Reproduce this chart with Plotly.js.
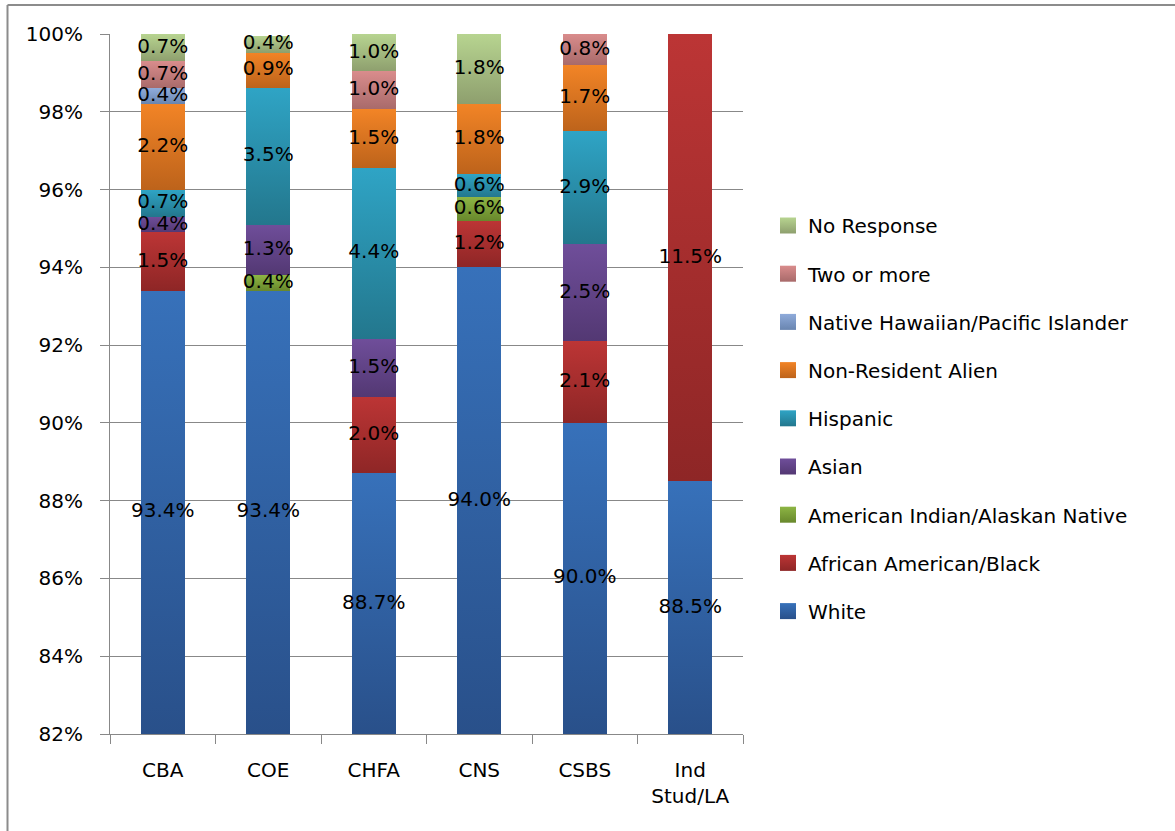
<!DOCTYPE html>
<html>
<head>
<meta charset="utf-8">
<script src="https://cdn.plot.ly/plotly-3.0.1.min.js"></script>
<style>
  html, body { margin: 0; padding: 0; background: #fff; }
  #chart { width: 1175px; height: 831px; }
</style>
</head>
<body>
<div id="chart"></div>
<script>
// ---------- data (percent of each college) ----------
const categories = ['CBA', 'COE', 'CHFA', 'CNS', 'CSBS', 'Ind Stud/LA'];
const tickLabels = ['CBA', 'COE', 'CHFA', 'CNS', 'CSBS', 'Ind<br>Stud/LA'];

const white      = [93.4, 93.4, 88.7, 94.0, 90.0, 88.5];
const black      = [1.5, null, 1.96, 1.2, 2.1, 11.5];
const amIndian   = [null, 0.4, null, 0.6, null, null];
const asian      = [0.4, 1.3, 1.5, null, 2.5, null];
const hispanic   = [0.7, 3.52, 4.4, 0.6, 2.9, null];
const nonResident= [2.2, 0.9, 1.5, 1.8, 1.7, null];
const hawaiian   = [0.4, null, null, null, null, null];
const twoOrMore  = [0.7, null, 0.98, null, 0.8, null];
const noResponse = [0.7, 0.44, 0.98, 1.8, null, null];

const seriesNames = ['White', 'African American/Black', 'American Indian/Alaskan Native',
  'Asian', 'Hispanic', 'Non-Resident Alien', 'Native Hawaiian/Pacific Islander',
  'Two or more', 'No Response'];
const seriesValues = [white, black, amIndian, asian, hispanic, nonResident, hawaiian, twoOrMore, noResponse];

// [mid colour, light top, dark bottom]
const seriesColors = [
  ['#3164a8', '#3771ba', '#29508a'],
  ['#a72e2e', '#bc3535', '#8e2626'],
  ['#7c9e38', '#8db544', '#68882c'],
  ['#634388', '#6f4e9a', '#533873'],
  ['#2a8eab', '#2fa4c5', '#23778d'],
  ['#dc7420', '#f28426', '#bd631b'],
  ['#7c98c6', '#8fabda', '#6985b0'],
  ['#c47c7c', '#d98c8c', '#a86a6a'],
  ['#a4bb7e', '#b7d490', '#8e9f6e']
];

const Y_MIN = 82, Y_MAX = 100;
const FONT = 'DejaVu Sans, sans-serif';
const FS = 20;

// ---------- traces ----------
const traces = [];
seriesNames.forEach((name, i) => {
  traces.push({
    type: 'bar',
    name: name,
    x: categories,
    y: seriesValues[i],
    marker: { color: seriesColors[i][0], line: { width: 0 } },
    legendgroup: 'g' + i,
    legendrank: 100 - i,
    hoverinfo: 'skip'
  });
});

// data labels centred in the visible part of each segment
const lx = [], ly = [], lt = [];
const cum = categories.map(() => 0);
seriesValues.forEach(vals => {
  vals.forEach((v, j) => {
    if (v === null || v === undefined) return;
    const b = cum[j], t = cum[j] + v;
    cum[j] = t;
    const lo = Math.max(b, Y_MIN), hi = Math.min(t, Y_MAX);
    if (hi <= lo) return;
    lx.push(categories[j]);
    ly.push((lo + hi) / 2);
    lt.push(v.toFixed(1) + '%');
  });
});
traces.push({
  type: 'scatter', mode: 'text', x: lx, y: ly, text: lt,
  textposition: 'middle center',
  textfont: { family: FONT, size: FS, color: '#000' },
  showlegend: false, hoverinfo: 'skip', cliponaxis: false
});

// ---------- layout ----------
const L = 110, T = 34, W = 633, H = 700;
const px2x = p => (p - L) / W;
const py2y = p => (T + H - p) / H;

const layout = {
  width: 1175, height: 831,
  margin: { l: L, r: 1175 - L - W, t: T, b: 831 - T - H, pad: 0 },
  paper_bgcolor: '#fff', plot_bgcolor: '#fff',
  barmode: 'stack',
  bargap: 0.583,
  font: { family: FONT, size: FS, color: '#000' },
  showlegend: true,
  legend: {
    x: px2x(768), xanchor: 'left',
    y: py2y(206), yanchor: 'top',
    traceorder: 'grouped',
    tracegroupgap: 19.2,
    font: { family: FONT, size: FS, color: '#000' },
    bgcolor: 'rgba(0,0,0,0)', borderwidth: 0
  },
  xaxis: {
    type: 'category',
    tickvals: categories, ticktext: tickLabels,
    showline: true, linecolor: '#888', linewidth: 1,
    ticks: 'outside', tickson: 'boundaries', ticklen: 9, tickcolor: '#888', tickwidth: 1,
    ticklabelstandoff: 18,
    showgrid: false, zeroline: false,
    tickfont: { family: FONT, size: FS, color: '#000' }
  },
  yaxis: {
    range: [Y_MIN, Y_MAX],
    dtick: 2, tick0: 0,
    ticksuffix: '%',
    showline: true, linecolor: '#888', linewidth: 1,
    ticks: 'outside', ticklen: 9, tickcolor: '#888', tickwidth: 1,
    ticklabelstandoff: 13,
    showgrid: true, gridcolor: '#888', gridwidth: 1,
    zeroline: false,
    tickfont: { family: FONT, size: FS, color: '#000' }
  },
  shapes: [
    { type: 'line', xref: 'paper', yref: 'paper', x0: px2x(7.5), x1: px2x(1180), y0: py2y(5), y1: py2y(5),
      line: { color: '#8c8c8c', width: 2 } },
    { type: 'line', xref: 'paper', yref: 'paper', x0: px2x(7.5), x1: px2x(7.5), y0: py2y(5), y1: py2y(840),
      line: { color: '#8c8c8c', width: 2 } }
  ]
};

function addGradients(gd) {
  try {
    const ns = 'http://www.w3.org/2000/svg';
    const svg = gd.querySelector('svg.main-svg');
    let defs = svg.querySelector('defs');
    if (!defs) { defs = document.createElementNS(ns, 'defs'); svg.insertBefore(defs, svg.firstChild); }
    const plotH = gd._fullLayout._size.h;
    const mk = (id, light, dark, units, y1, y2) => {
      const lg = document.createElementNS(ns, 'linearGradient');
      lg.setAttribute('id', id);
      lg.setAttribute('gradientUnits', units);
      lg.setAttribute('x1', 0); lg.setAttribute('x2', 0);
      lg.setAttribute('y1', y1); lg.setAttribute('y2', y2);
      const s1 = document.createElementNS(ns, 'stop');
      s1.setAttribute('offset', '0'); s1.setAttribute('stop-color', light);
      const s2 = document.createElementNS(ns, 'stop');
      s2.setAttribute('offset', '1'); s2.setAttribute('stop-color', dark);
      lg.appendChild(s1); lg.appendChild(s2);
      defs.appendChild(lg);
    };
    gd.querySelectorAll('.barlayer .trace').forEach(tr => {
      const dd = tr.__data__;
      const trace = dd && dd[0] && dd[0].trace;
      if (!trace) return;
      const idx = seriesNames.indexOf(trace.name);
      if (idx < 0) return;
      tr.querySelectorAll('path').forEach((p, pi) => {
        const bb = p.getBBox();
        if (!bb || bb.height <= 0) return;
        const top = Math.max(bb.y, 0);
        const bot = Math.min(bb.y + bb.height, plotH);
        if (bot <= top) return;
        const id = 'bg_' + idx + '_' + pi;
        mk(id, seriesColors[idx][1], seriesColors[idx][2], 'userSpaceOnUse', top, bot);
        p.style.fill = 'url(#' + id + ')';
      });
    });
    gd.querySelectorAll('.legend .traces').forEach(el => {
      const dd = el.__data__;
      let trace = null;
      if (dd && dd[0]) trace = dd[0].trace || (dd[0][0] && dd[0][0].trace);
      if (!trace) return;
      const idx = seriesNames.indexOf(trace.name);
      if (idx < 0) return;
      const id = 'lg_' + idx;
      mk(id, seriesColors[idx][1], seriesColors[idx][2], 'objectBoundingBox', 0, 1);
      el.querySelectorAll('.legendpoints path').forEach(p => {
        p.setAttribute('d', 'M8,8H-8V-8H8Z');
        p.style.fill = 'url(#' + id + ')';
      });
    });
  } catch (e) { console.log(e); }
}

Plotly.newPlot('chart', traces, layout, { staticPlot: true, displayModeBar: false, responsive: false })
  .then(addGradients);
</script>
</body>
</html>
